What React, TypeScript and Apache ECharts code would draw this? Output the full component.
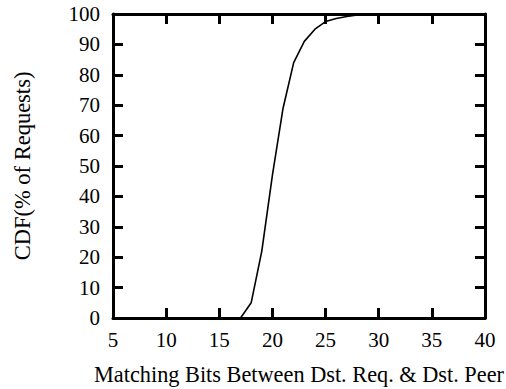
import React, { useEffect, useRef } from "react";
import * as echarts from "echarts";

const bits = [16, 17, 18, 19, 20, 21, 22, 23, 24, 25, 26, 27, 28, 29, 30];
const cdf = [0, 0, 5, 22, 47, 69, 84, 91, 95, 97.5, 98.5, 99.2, 99.7, 100, 100];
const xTicks = { min: 5, max: 40, interval: 5 };
const yTicks = { min: 0, max: 100, interval: 10 };
const xTitle = "Matching Bits Between Dst. Req. & Dst. Peer";
const yTitle = "CDF(% of Requests)";

const FONT = "Liberation Serif";

export default function App() {
  const ref = useRef<HTMLDivElement>(null);
  useEffect(() => {
    const chart = echarts.init(ref.current!, null, { renderer: "svg" });
    const tick = { show: true, inside: true, length: 10, lineStyle: { color: "#000", width: 3 } };
    const line = { show: true, onZero: false, lineStyle: { color: "#000", width: 3 } };
    chart.setOption({
      animation: false,
      grid: { left: 113, right: 21, top: 14, bottom: 71, containLabel: false, outerBoundsMode: "none" },
      xAxis: [
        {
          type: "value",
          ...xTicks,
          axisLine: line,
          axisTick: tick,
          splitLine: { show: false },
          axisLabel: { color: "#000", fontFamily: FONT, fontSize: 21, margin: 11 },
          name: xTitle,
          nameLocation: "middle",
          nameGap: 45,
          nameTextStyle: { color: "#000", fontFamily: FONT, fontSize: 22.3 },
        },
        {
          type: "value",
          position: "top",
          ...xTicks,
          axisLine: line,
          axisTick: tick,
          splitLine: { show: false },
          axisLabel: { show: false },
        },
      ],
      yAxis: [
        {
          type: "value",
          ...yTicks,
          axisLine: line,
          axisTick: tick,
          splitLine: { show: false },
          axisLabel: { color: "#000", fontFamily: FONT, fontSize: 21, margin: 13 },
          name: yTitle,
          nameLocation: "middle",
          nameGap: 79,
          nameRotate: 90,
          nameTextStyle: { color: "#000", fontFamily: FONT, fontSize: 22.5 },
        },
        {
          type: "value",
          position: "right",
          ...yTicks,
          axisLine: line,
          axisTick: tick,
          splitLine: { show: false },
          axisLabel: { show: false },
        },
      ],
      series: [
        {
          type: "line",
          data: bits.map((b, i) => [b, cdf[i]]),
          showSymbol: false,
          lineStyle: { color: "#000", width: 1.6 },
          clip: false,
        },
      ],
    });
    return () => chart.dispose();
  }, []);
  return <div ref={ref} style={{ width: 506, height: 389, position: "absolute", left: 0, top: 0 }} />;
}
